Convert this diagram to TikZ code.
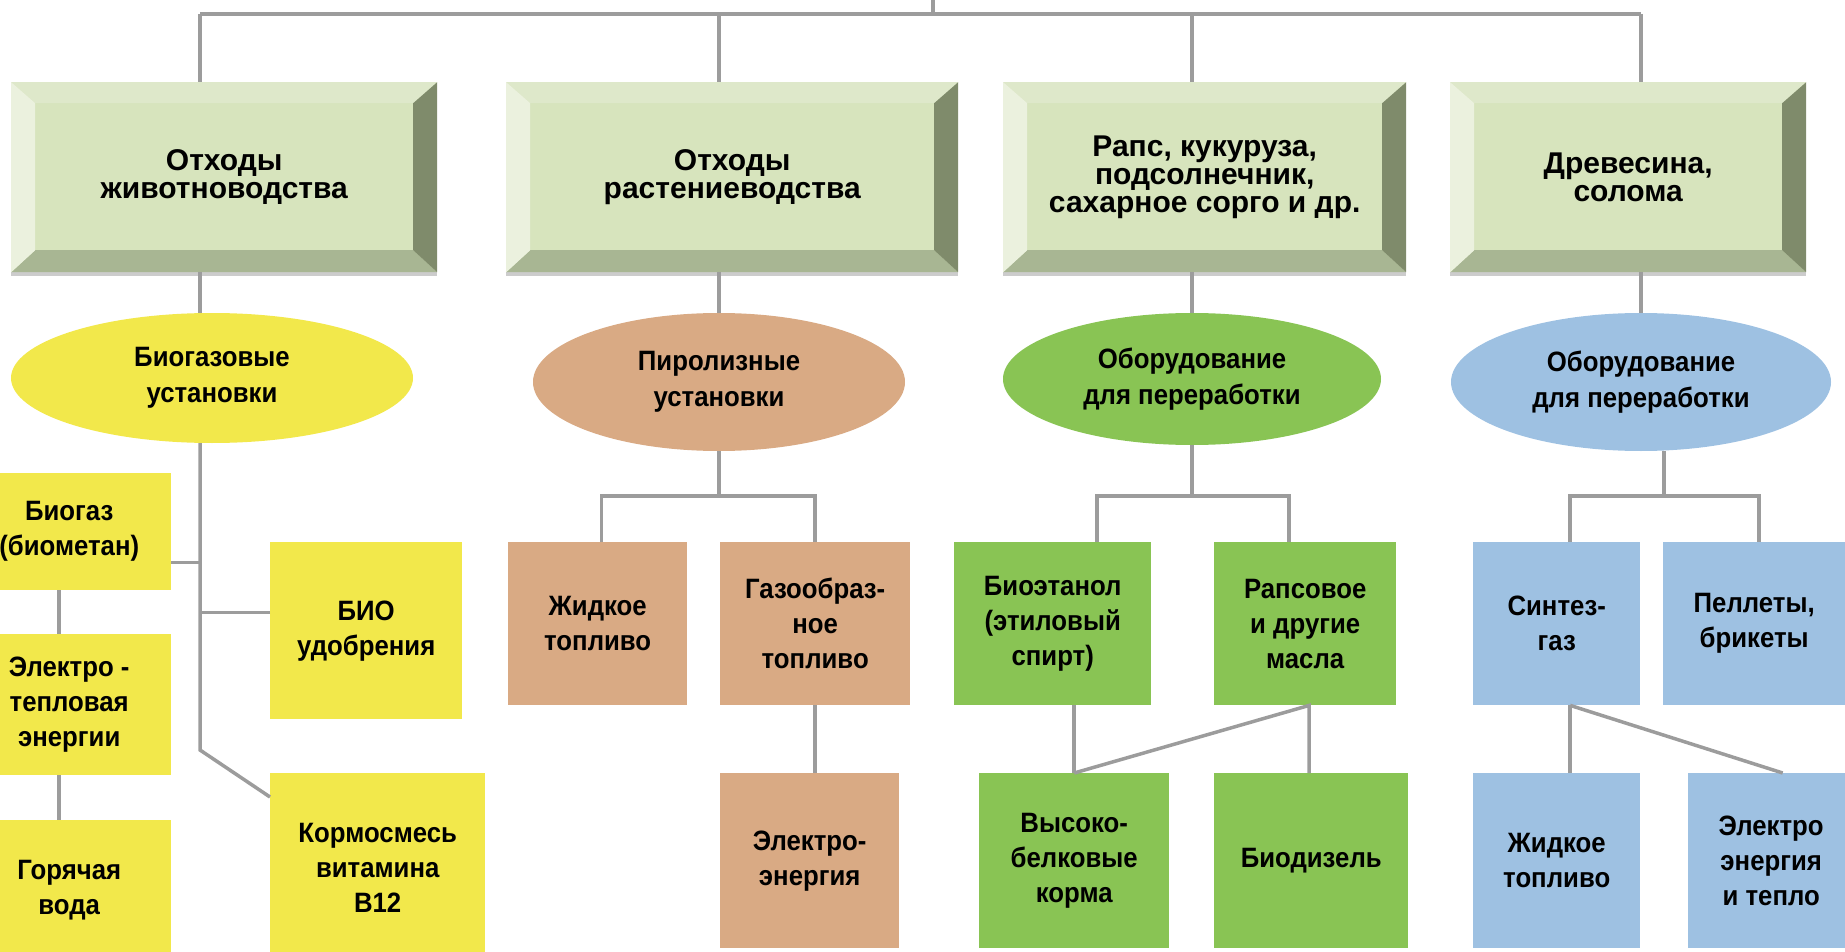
\documentclass[tikz,border=0pt]{standalone}
\usepackage{fontspec}
\newfontfamily\headfont{Liberation Sans}
\newfontfamily\boxfont{Liberation Sans}[FakeStretch=0.92]
\usetikzlibrary{shapes.geometric,shadows}
\definecolor{linegray}{HTML}{9C9C9C}
\definecolor{face}{HTML}{D7E4BD}
\definecolor{bevtop}{HTML}{DEE8CA}
\definecolor{bevleft}{HTML}{EBF1DE}
\definecolor{bevright}{HTML}{7F8B6B}
\definecolor{bevbottom}{HTML}{A8B693}
\definecolor{yfill}{HTML}{F2E84B}
\definecolor{tfill}{HTML}{D9AA84}
\definecolor{gfill}{HTML}{89C454}
\definecolor{bfill}{HTML}{9EC1E2}

\begin{document}
\begin{tikzpicture}[x=1pt,y=-1pt,
  conn/.style={draw=linegray,line width=3.5pt},
  source/.style={rectangle,inner sep=0pt,anchor=north west,fill=face,
    minimum height=190,align=center,
    font=\headfont\bfseries\fontsize{30}{28}\selectfont,
    drop shadow={shadow xshift=0pt,shadow yshift=-4pt,fill=black!40,opacity=.5},
    path picture={
      \fill[bevtop] (path picture bounding box.north west) -- (path picture bounding box.north east)
        -- ++(-24pt,-21pt) -- ([shift={(24pt,-21pt)}]path picture bounding box.north west) -- cycle;
      \fill[bevbottom] (path picture bounding box.south west) -- (path picture bounding box.south east)
        -- ++(-24pt,22pt) -- ([shift={(24pt,22pt)}]path picture bounding box.south west) -- cycle;
      \fill[bevleft] (path picture bounding box.north west) -- (path picture bounding box.south west)
        -- ++(24pt,22pt) -- ([shift={(24pt,-21pt)}]path picture bounding box.north west) -- cycle;
      \fill[bevright] (path picture bounding box.north east) -- (path picture bounding box.south east)
        -- ++(-24pt,22pt) -- ([shift={(-24pt,-21pt)}]path picture bounding box.north east) -- cycle;
    }},
  plant/.style={ellipse,inner sep=0pt,align=center,
    font=\boxfont\bfseries\fontsize{28}{36}\selectfont},
  product/.style={rectangle,inner sep=0pt,anchor=north west,align=center,
    font=\boxfont\bfseries\fontsize{28}{35}\selectfont},
 ]
\useasboundingbox (0,0) rectangle (1845,952);
\clip (0,0) rectangle (1845,952);

% raw materials
\node[source,minimum width=426] (b1) at (11,82) {Отходы\\животноводства};
\node[source,minimum width=452] (b2) at (506,82) {Отходы\\растениеводства};
\node[source,minimum width=403] (b3) at (1003,82) {Рапс, кукуруза,\\подсолнечник,\\сахарное сорго и др.};
\node[source,minimum width=356] (b4) at (1450,82) {Древесина,\\солома};

% processing plants
\node[plant,fill=yfill,minimum width=402,minimum height=130] (e1) at (212,378) {Биогазовые\\установки};
\node[plant,fill=tfill,minimum width=372,minimum height=138] (e2) at (719,382) {Пиролизные\\установки};
\node[plant,fill=gfill,minimum width=378,minimum height=132] (e3) at (1192,379) {Оборудование\\для переработки};
\node[plant,fill=bfill,minimum width=380,minimum height=138] (e4) at (1641,382) {Оборудование\\для переработки};

% products
\node[product,fill=yfill,minimum width=204,minimum height=117] (biogas) at (-33,473) {Биогаз\\(биометан)};
\node[product,fill=yfill,minimum width=204,minimum height=141] (heat) at (-33,634) {Электро -\\тепловая\\энергии};
\node[product,fill=yfill,minimum width=204,minimum height=140] (water) at (-33,820) {Горячая\\вода};
\node[product,fill=yfill,minimum width=192,minimum height=177] (biofert) at (270,542) {БИО\\удобрения};
\node[product,fill=yfill,minimum width=215,minimum height=190] (feedmix) at (270,773) {Кормосмесь\\витамина\\В12};

\node[product,fill=tfill,minimum width=179,minimum height=163] (liquid) at (508,542) {Жидкое\\топливо};
\node[product,fill=tfill,minimum width=190,minimum height=163] (gas) at (720,542) {Газообраз-\\ное\\топливо};
\node[product,fill=tfill,minimum width=179,minimum height=175] (power) at (720,773) {Электро-\\энергия};

\node[product,fill=gfill,minimum width=197,minimum height=163] (ethanol) at (954,542) {Биоэтанол\\(этиловый\\спирт)};
\node[product,fill=gfill,minimum width=182,minimum height=163] (oils) at (1214,542) {Рапсовое\\и другие\\масла};
\node[product,fill=gfill,minimum width=190,minimum height=175] (protein) at (979,773) {Высоко-\\белковые\\корма};
\node[product,fill=gfill,minimum width=194,minimum height=175] (diesel) at (1214,773) {Биодизель};

\node[product,fill=bfill,minimum width=167,minimum height=163] (syngas) at (1473,542) {Синтез-\\газ};
\node[product,fill=bfill,minimum width=182,minimum height=163] (pellets) at (1663,542) {Пеллеты,\\брикеты};
\node[product,fill=bfill,minimum width=167,minimum height=175] (liquidb) at (1473,773) {Жидкое\\топливо};
\node[product,fill=bfill,minimum width=166,minimum height=175] (powerb) at (1688,773) {Электро\\энергия\\и тепло};

% top bus
\coordinate (root) at (933,0);
\coordinate (bus) at (933,14);
\coordinate (t1) at (200,14);
\coordinate (t2) at (719,14);
\coordinate (t3) at (1192,14);
\coordinate (t4) at (1641,14);
\draw[conn] (root) -- (bus);
\draw[conn] (t1) -- (t4);
\foreach \i in {1,...,4}{
  \draw[conn] (t\i) -- (t\i |- b\i.north);
  \draw[conn] (t\i |- b\i.south) -- (t\i |- e\i.north);
}

% biogas branch
\coordinate (c1) at (200,750);
\draw[conn] (t1 |- e1.south) -- (c1) -- ([yshift=-24pt]feedmix.north west);
\coordinate (s1) at ([yshift=-31pt]biogas.east);
\coordinate (s2) at ([yshift=18pt]biofert.west);
\draw[conn] (s1) -- (s1 -| t1);
\draw[conn] (s2) -- (s2 -| t1);
\draw[conn] ([xshift=-10pt]biogas.south) -- ([xshift=-10pt]heat.north);
\draw[conn] ([xshift=-10pt]heat.south) -- ([xshift=-10pt]water.north);

% pyrolysis branch
\coordinate (j2) at (719,496);
\draw[conn] (e2.south) -- (j2);
\draw[conn] ([xshift=4pt]liquid.north) |- (j2) -| (gas.north);
\draw[conn] (gas.south) -- (gas.south |- power.north);

% oil crops branch
\coordinate (j3) at (1192,496);
\draw[conn] (e3.south) -- (j3);
\draw[conn] ([xshift=44.5pt]ethanol.north) |- (j3) -| ([xshift=-16pt]oils.north);
\draw[conn] (protein.north |- ethanol.south) -- (protein.north);
\coordinate (o3) at ([xshift=4pt]oils.south);
\draw[conn] (protein.north) -- (o3) -- (o3 |- diesel.north);

% wood branch
\coordinate (j4) at (1664,496);
\draw[conn] ([xshift=23pt]e4.south) -- (j4);
\draw[conn] ([xshift=13.5pt]syngas.north) |- (j4) -| ([xshift=5pt]pellets.north);
\coordinate (o4) at ([xshift=13.5pt]syngas.south);
\draw[conn] (o4) -- (o4 |- liquidb.north);
\draw[conn] (o4) -- ([xshift=11.5pt]powerb.north);
\end{tikzpicture}
\end{document}
